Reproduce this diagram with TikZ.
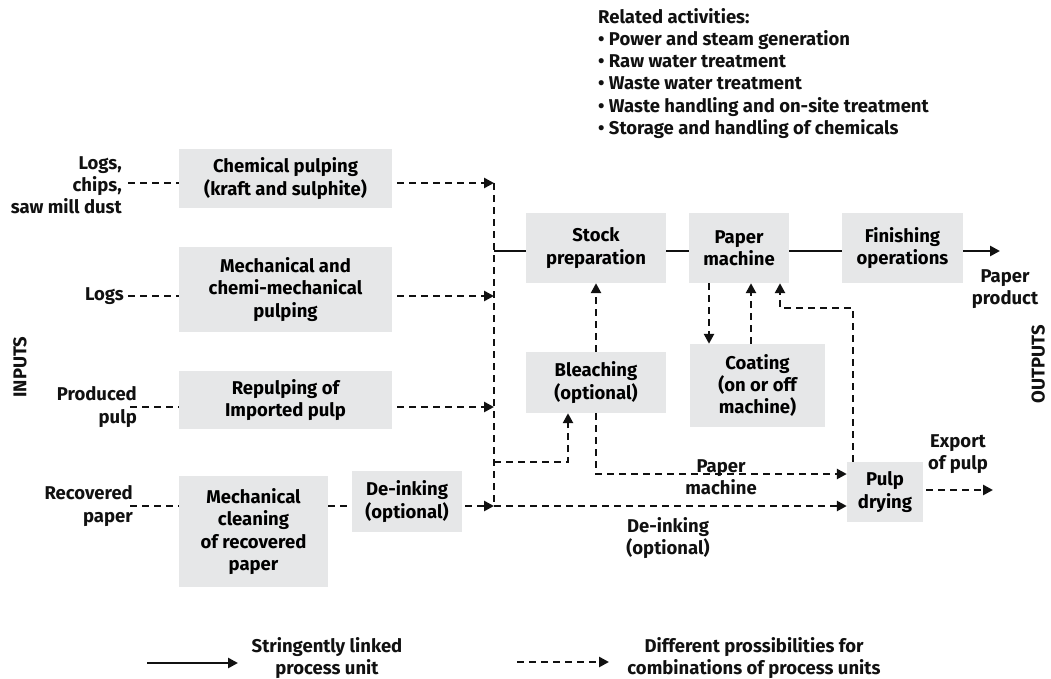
\documentclass[tikz,border=0pt]{standalone}
\usepackage{fontspec}
\setmainfont{Fira Sans}
\usetikzlibrary{arrows.meta,positioning}
\definecolor{Box}{HTML}{E6E7E8}
\definecolor{Ink}{HTML}{111111}

\begin{document}
\begin{tikzpicture}[x=1pt,y=-1pt,
  font=\fontsize{18.5}{22.2}\selectfont\bfseries,
  proc/.style={fill=Box,align=center,inner sep=2pt},
  flow/.style={line width=2.5pt,Ink},
  dashflow/.style={flow,dash pattern=on 7pt off 5pt},
  tip/.style={-{Triangle[length=10pt,width=10pt]}},
  lab/.style={align=center,inner sep=0pt,Ink}]
  \useasboundingbox (0,0) rectangle (1051,679);
  % process units
  \foreach \n/\cx/\cy/\w/\h/\t in {
    chem/285.5/178.5/213/59/{Chemical pulping\\(kraft and sulphite)},
    mech/285.5/289.5/213/85/{Mechanical and\\chemi-mechanical\\pulping},
    repulp/285.5/400/213/58/{Repulping of\\Imported pulp},
    clean/253.5/531.5/149/111/{Mechanical\\cleaning\\of recovered\\paper},
    deink/407/501.5/110/61/{De-inking\\(optional)},
    stock/596/248/140/70/{Stock\\preparation},
    pm/739/248/100/70/{Paper\\machine},
    finish/902.5/248/121/70/{Finishing\\operations},
    bleach/596/382.5/140/61/{Bleaching\\(optional)},
    coat/757.5/385.5/135/83/{Coating\\(on or off\\machine)},
    dry/885/492/76/60/{Pulp\\drying}} {
    \node[proc,minimum width=\w pt,minimum height=\h pt] (\n) at (\cx,\cy) {\t};
  }
  % inputs
  \node[lab,align=right,anchor=east] (inA) at (122,185) {Logs,\\chips,\\saw mill dust};
  \node[lab,anchor=east] (inB) at (124,296) {Logs};
  \node[lab,align=right,anchor=east] (inC) at (137,407) {Produced\\pulp};
  \node[lab,align=right,anchor=east] (inD) at (133,506) {Recovered\\paper};
  \node[lab,rotate=90] (inputs) at (20,367) {INPUTS};
  \node[lab,rotate=90,anchor=south,inner sep=1pt] (outputs) at (1046,364) {OUTPUTS};
  % collecting line
  \coordinate (busA) at (494,183);
  \coordinate (busB) at (494,296);
  \coordinate (busC) at (494,407);
  \coordinate (busD) at (494,506);
  \coordinate (busS) at (494,251);
  \coordinate (busE) at (494,462);
  \draw[dashflow] ([xshift=6pt]busA -| inA.east) -- (busA -| chem.west);
  \draw[dashflow] ([xshift=4pt]busB -| inB.east) -- (busB -| mech.west);
  \draw[dashflow] ([xshift=-7pt]busC -| inC.east) -- (busC -| repulp.west);
  \draw[dashflow] ([xshift=-3pt]busD -| inD.east) -- (busD -| clean.west);
  \draw[dashflow] (busD -| clean.east) -- (busD -| deink.west);
  \draw[dashflow,tip,shorten <=5pt] (busA -| chem.east) -- (busA);
  \draw[dashflow,tip,shorten <=5pt] (busB -| mech.east) -- (busB);
  \draw[dashflow,tip,shorten <=5pt] (busC -| repulp.east) -- (busC);
  \draw[dashflow,tip,shorten <=3pt] (busD -| deink.east) -- (busD);
  \draw[dashflow] (busA) -- (busD);
  % paper line
  \coordinate (prod) at (1000,251);
  \draw[flow] (busS) -- (busS -| stock.west);
  \draw[flow] (busS -| stock.east) -- (busS -| pm.west);
  \draw[flow] (busS -| pm.east) -- (busS -| finish.west);
  \draw[flow,tip] (busS -| finish.east) -- (prod);
  \node[lab] (lblProd) at (1005,289) {Paper\\product};
  % optional routes
  \draw[dashflow,tip] (bleach.north) -- (stock.south);
  \draw[dashflow,tip] ([xshift=-30pt]pm.south) -- ([xshift=-30pt]pm.south |- coat.north);
  \draw[dashflow,tip] ([xshift=-6.5pt]coat.north) -- ([xshift=-6.5pt]coat.north |- pm.south);
  \coordinate (ret) at (780,308);
  \draw[dashflow,tip] ([xshift=-32pt]dry.north) |- (ret) -- (ret |- pm.south);
  \draw[dashflow,tip] (busE) -| ([xshift=-28pt]bleach.south);
  \coordinate (pmRoute) at (596,474);
  \draw[dashflow,tip] (bleach.south) -- (pmRoute) -- (pmRoute -| dry.west);
  \draw[dashflow,tip] (busD) -- (busD -| dry.west);
  \coordinate (exp) at (993,490);
  \draw[dashflow,tip,shorten <=3pt] (exp -| dry.east) -- (exp);
  \node[lab] (lblPM) at (721,477) {Paper\\machine};
  \node[lab] (lblDI) at (668,538) {De-inking\\(optional)};
  \node[lab] (lblEx) at (958,454) {Export\\of pulp};
  % related activities
  \node[lab,align=left,anchor=north west] (rel) at (598,8) {Related activities:\\
    • Power and steam generation\\
    • Raw water treatment\\
    • Waste water treatment\\
    • Waste handling and on-site treatment\\
    • Storage and handling of chemicals};
  % legend
  \coordinate (legA) at (147,663);
  \coordinate (legB) at (238,663);
  \coordinate (legC) at (517,662);
  \coordinate (legD) at (609,662);
  \draw[flow,tip] (legA) -- (legB);
  \draw[dashflow,tip] (legC) -- (legD);
  \node[lab] (legSolid) at (327,658) {Stringently linked\\process unit};
  \node[lab] (legDash) at (754,658) {Different prossibilities for\\combinations of process units};
\end{tikzpicture}
\end{document}
